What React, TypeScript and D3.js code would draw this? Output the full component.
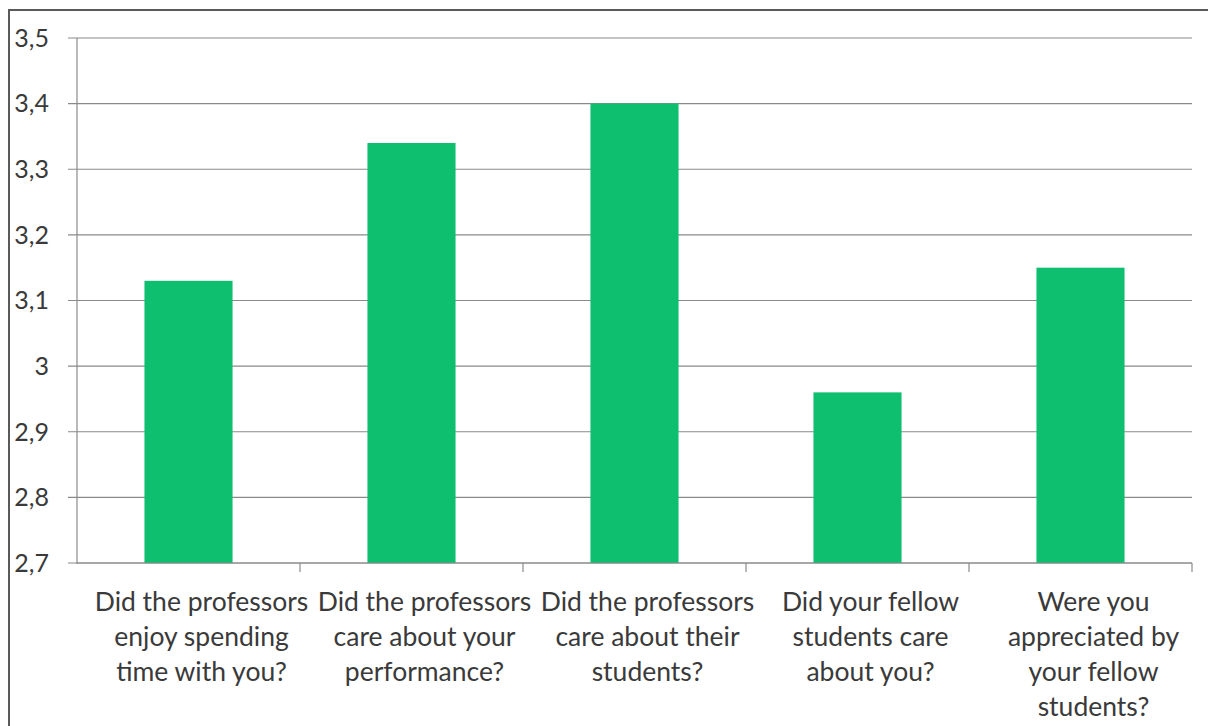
import React from "react";
import * as d3 from "d3";

const categories: string[][] = [
  ["Did the professors", "enjoy spending", "time with you?"],
  ["Did the professors", "care about your", "performance?"],
  ["Did the professors", "care about their", "students?"],
  ["Did your fellow", "students care", "about you?"],
  ["Were you", "appreciated by", "your fellow", "students?"],
];
const values: number[] = [3.13, 3.34, 3.4, 2.96, 3.15];
const yTicks: number[] = [2.7, 2.8, 2.9, 3.0, 3.1, 3.2, 3.3, 3.4, 3.5];

const W = 1208;
const H = 726;
const plot = { left: 77, right: 1192, top: 38, bottom: 563 };
const FONT = "Lato, 'Open Sans', sans-serif";
const BAR = "#0dbf6e";
const AXIS = "#8a8a8a";
const TEXT = "#3a3a3a";
const LABEL_SHIFT = 13;

const locale = d3.formatLocale({ decimal: ",", thousands: ".", grouping: [3], currency: ["", ""] });
const fmt = locale.format("~g");

export default function App() {
  const x = d3
    .scaleBand<number>()
    .domain(values.map((_, i) => i))
    .range([plot.left, plot.right])
    .padding(0);
  const y = d3.scaleLinear().domain([2.7, 3.5]).range([plot.bottom, plot.top]);
  const barW = x.bandwidth() * 0.395;

  return (
    <svg
      width={W}
      height={H}
      style={{ position: "absolute", left: 0, top: 0, background: "#fff" }}
      fontFamily={FONT}
    >
      <rect x={9} y={10} width={W + 20} height={H + 20} fill="#fff" stroke="#5a5a5a" strokeWidth={2} />

      {/* horizontal gridlines and y ticks */}
      {yTicks.map((t) => (
        <g key={t}>
          <line x1={plot.left - 9} x2={plot.right} y1={y(t)} y2={y(t)} stroke={AXIS} strokeWidth={1.2} />
          <text x={49} y={y(t)} dy="0.35em" textAnchor="end" fontSize={25} fill={TEXT}>
            {fmt(t)}
          </text>
        </g>
      ))}

      {/* y axis line */}
      <line x1={plot.left} x2={plot.left} y1={plot.top} y2={plot.bottom + 1} stroke={AXIS} strokeWidth={1.2} />

      {/* bars */}
      {values.map((v, i) => (
        <rect
          key={i}
          x={(x(i) as number) + (x.bandwidth() - barW) / 2}
          y={y(v)}
          width={barW}
          height={y(2.7) - y(v)}
          fill={BAR}
        />
      ))}

      {/* x axis and category tick marks */}
      <line x1={plot.left} x2={plot.right} y1={plot.bottom} y2={plot.bottom} stroke={AXIS} strokeWidth={1.2} />
      {values.map((_, i) => (
        <line
          key={i}
          x1={(x(i) as number) + x.bandwidth()}
          x2={(x(i) as number) + x.bandwidth()}
          y1={plot.bottom}
          y2={plot.bottom + 9}
          stroke={AXIS}
          strokeWidth={1.2}
        />
      ))}

      {/* category labels */}
      {categories.map((lines, i) => {
        const cx = (x(i) as number) + x.bandwidth() / 2 + LABEL_SHIFT;
        return (
          <text key={i} x={cx} textAnchor="middle" fontSize={26.5} fill={TEXT}>
            {lines.map((ln, j) => (
              <tspan key={j} x={cx} y={602 + j * 35} dy="0.35em">
                {ln}
              </tspan>
            ))}
          </text>
        );
      })}
    </svg>
  );
}
